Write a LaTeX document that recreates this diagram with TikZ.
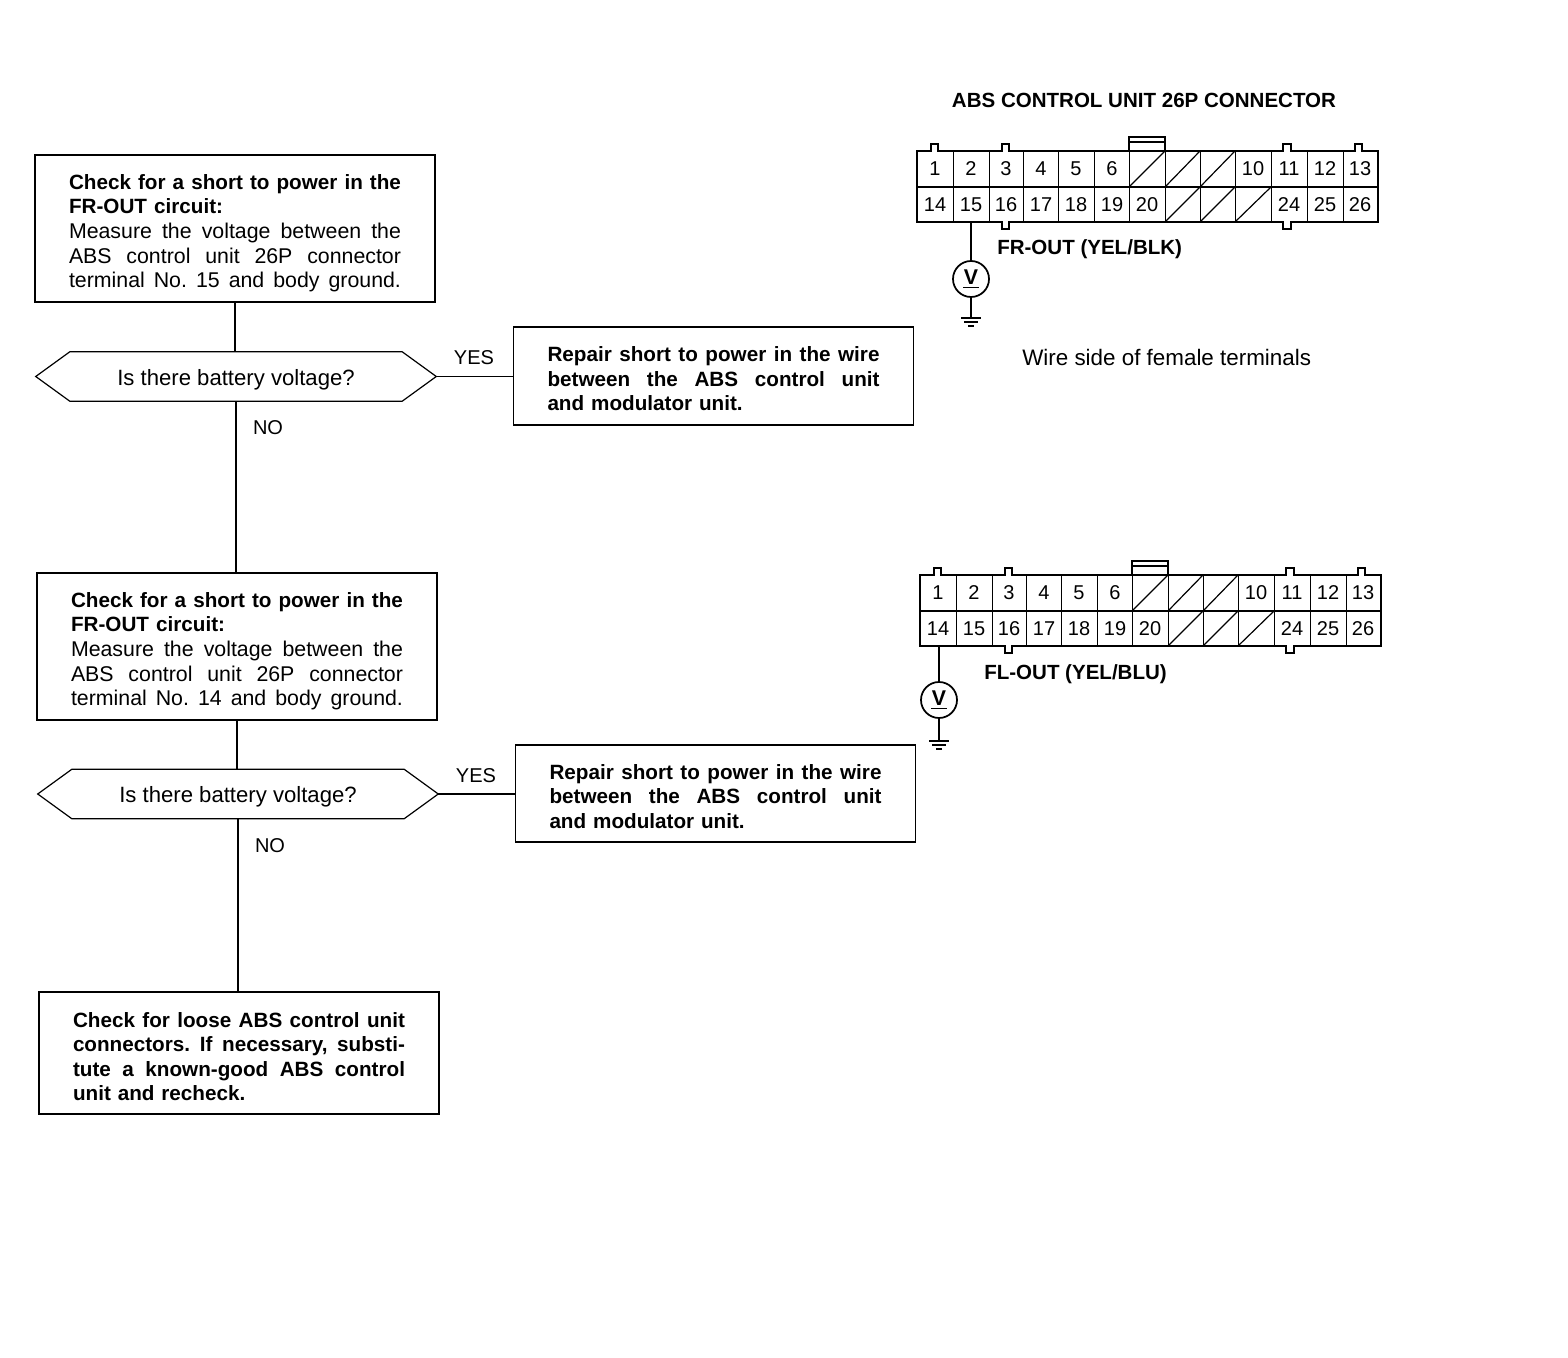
\documentclass[tikz,border=0pt]{standalone}
\usepackage{fontspec}
\setmainfont{Liberation Sans}
\newcommand\LL[1]{\leavevmode\hbox to 249pt{\frenchspacing\spaceskip=.22em plus 1fil\relax #1}}
\newcommand\TP[1]{\rule{0pt}{#1}}
\newcommand\HT{\TP{16.8pt}Is there battery voltage?}
\newcommand\VV{\raisebox{-1.5pt}{\vbox{\hbox to 12pt{\hss\fontsize{16}{18}\selectfont\bfseries V\hss}\kern2pt\hrule height 1.1pt}}}
\newcommand\drawconn[3]{%
\begin{scope}[shift={(#1,#2)},name prefix=#3-]
  \draw[line width=2.2pt,line join=miter] (917,151)--(931,151)--(931,144)--(938,144)--(938,151)--(1002,151)--(1002,144)--(1009,144)--(1009,151)--(1283,151)--(1283,144)--(1291,144)--(1291,151)--(1355,151)--(1355,144)--(1362,144)--(1362,151)--(1378,151)--(1378,222)--(1291,222)--(1291,229)--(1283,229)--(1283,222)--(1009,222)--(1009,229)--(1002,229)--(1002,222)--(917,222)--cycle;
  \draw[line width=1.4pt] (1129,151)--(1129,137)--(1165,137)--(1165,151) (1129,142)--(1165,142);
  \draw[line width=1.2pt] (917,187)--(1378,187);
  \foreach \xx in {953,989,1023,1058,1094,1129,1165,1200,1235,1271,1307,1343}
    \draw[line width=.7pt] (\xx,151)--(\xx,222);
  \foreach \xa/\xb in {1129/1165,1165/1200,1200/1235} \draw[line width=.9pt] (\xa,187)--(\xb,151);
  \foreach \xa/\xb in {1165/1200,1200/1235,1235/1271} \draw[line width=.9pt] (\xa,222)--(\xb,187);
  \foreach \n/\xx in {1/935,2/971,3/1006,4/1041,5/1076,6/1112,10/1253,11/1289,12/1325,13/1360}
    \node[num] (c\n) at (\xx,169) {\n};
  \foreach \n/\xx in {14/935,15/971,16/1006,17/1041,18/1076,19/1112,20/1147,24/1289,25/1325,26/1360}
    \node[num] (c\n) at (\xx,205) {\n};
\end{scope}}
\newcommand\drawgnd[1]{%
  \draw[line width=1pt] ([shift={(-10,0)}]#1)--([shift={(10,0)}]#1)
     ([shift={(-7,4)}]#1)--([shift={(7,4)}]#1)
     ([shift={(-3,8)}]#1)--([shift={(3,8)}]#1);}
\newcommand\hexoutline[1]{%
  \draw[line width=.9pt] (#1.west)--([xshift=25.5pt]#1.north west)--([xshift=-25.5pt]#1.north east)--(#1.east)--([xshift=-25.5pt]#1.south east)--([xshift=25.5pt]#1.south west)--cycle;}
\tikzset{
  box/.style={draw,line width=1.1pt,inner sep=0pt,minimum width=300pt,text width=249pt,align=left,font=\fontsize{16}{18.4}\selectfont},
  repairbox/.style={box,font=\fontsize{15.5}{18.4}\selectfont\bfseries},
  hexa/.style={inner sep=0pt,minimum width=300pt,minimum height=36.6pt,font=\fontsize{16.6}{18}\selectfont},
  lab/.style={inner sep=0pt,font=\fontsize{15}{18}\selectfont},
  wlab/.style={inner sep=0pt,font=\fontsize{16.8}{18}\selectfont},
  blab/.style={inner sep=0pt,font=\fontsize{15.4}{18}\selectfont\bfseries},
  num/.style={inner sep=0pt,font=\fontsize{15}{18}\selectfont},
  vm/.style={draw,circle,line width=1.3pt,minimum size=27pt,inner sep=0pt},
  link/.style={line width=1pt}
}
\begin{document}
\begin{tikzpicture}[x=.75pt,y=-.75pt]
\useasboundingbox (0,0) rectangle (1568,1358);
\fill[white] (0,0) rectangle (1568,1358);

\node[box,minimum height=110.25pt] (b1) at (235,228.5) {%
  \TP{18.3pt}\fontsize{15.5}{18.4}\selectfont\bfseries\LL{Check for a short to power in the}\\
  FR-OUT circuit:\\
  \fontsize{16}{18.4}\selectfont\normalfont\LL{Measure the voltage between the}\\
  \LL{ABS control unit 26P connector}\\
  \LL{terminal No. 15 and body ground.}};
\node[hexa] (d1) at (236,376.5) {\HT};
\hexoutline{d1}
\node[repairbox,minimum height=73.5pt] (r1) at (713.5,376) {%
  \TP{15.3pt}\LL{Repair short to power in the wire}\\
  \LL{between the ABS control unit}\\
  and modulator unit.};

\node[box,minimum height=110.25pt] (b2) at (237,646.5) {%
  \TP{18.3pt}\fontsize{15.5}{18.4}\selectfont\bfseries\LL{Check for a short to power in the}\\
  FR-OUT circuit:\\
  \fontsize{16}{18.4}\selectfont\normalfont\LL{Measure the voltage between the}\\
  \LL{ABS control unit 26P connector}\\
  \LL{terminal No. 14 and body ground.}};
\node[hexa] (d2) at (238,794) {\HT};
\hexoutline{d2}
\node[repairbox,minimum height=73pt] (r2) at (715.5,793.5) {%
  \TP{15.3pt}\LL{Repair short to power in the wire}\\
  \LL{between the ABS control unit}\\
  and modulator unit.};

\node[repairbox,minimum height=91.5pt] (b3) at (239,1053) {%
  \TP{16.6pt}\LL{Check for loose ABS control unit}\\
  \LL{connectors. If necessary, substi-}\\
  \LL{tute a known-good ABS control}\\
  unit and recheck.};

\draw[link] (b1.south)--(b1.south |- d1.north);
\draw[link] (d1.east)--(d1.east -| r1.west);
\draw[link] (d1.south)--(d1.south |- b2.north);
\draw[link] (b2.south)--(b2.south |- d2.north);
\draw[link] (d2.east)--(d2.east -| r2.west);
\draw[link] (d2.south)--(d2.south |- b3.north);

\node[lab] (y1) at (474,358) {YES};
\node[lab] (n1) at (268,428) {NO};
\node[lab] (y2) at (476,776) {YES};
\node[lab] (n2) at (270,846) {NO};

\node[blab] (title) at (1144,100) {ABS CONTROL UNIT 26P CONNECTOR};
\drawconn{0}{0}{a}
\drawconn{3}{424}{f}
\node[blab,anchor=west] (l1) at (997,249) {FR-OUT (YEL/BLK)};
\node[blab,anchor=west] (l2) at (984,674) {FL-OUT (YEL/BLU)};
\node[wlab,anchor=west] (w) at (1022,357) {Wire side of female terminals};

\node[vm] (v1) at (971,279) {\VV};
\coordinate (g1) at (971,318);
\coordinate (t1) at (971,222);
\draw[link] (t1)--(v1.north);
\draw[link] (v1.south)--(g1);
\drawgnd{g1}

\node[vm] (v2) at (939,700) {\VV};
\coordinate (g2) at (939,741);
\coordinate (t2) at (939,646);
\draw[link] (t2)--(v2.north);
\draw[link] (v2.south)--(g2);
\drawgnd{g2}
\end{tikzpicture}
\end{document}
